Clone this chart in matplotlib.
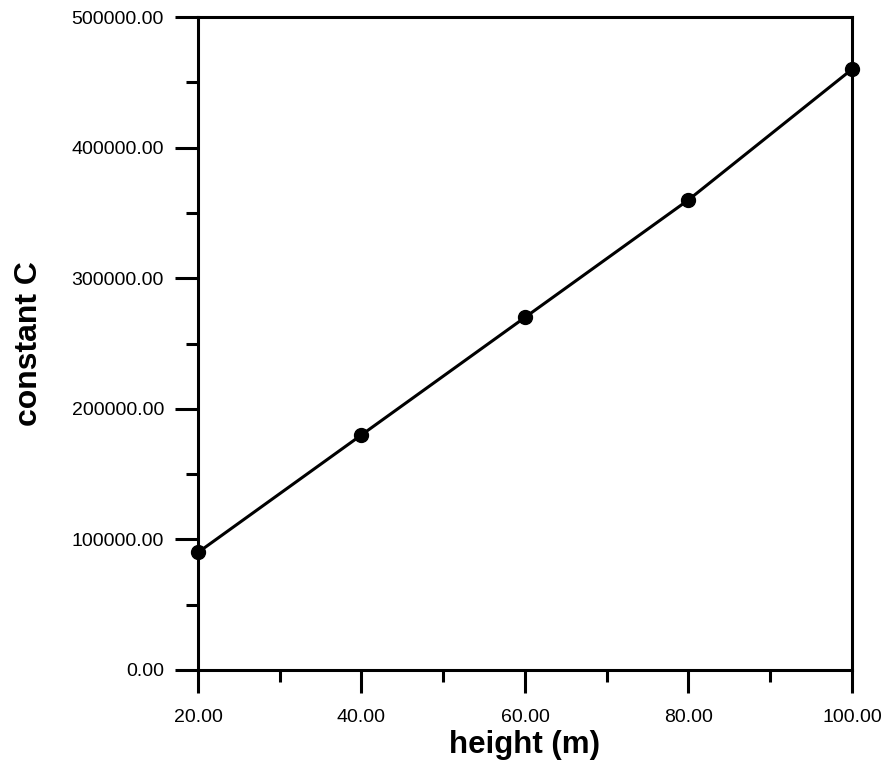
import matplotlib
matplotlib.use("Agg")
import matplotlib.pyplot as plt
from matplotlib.ticker import MultipleLocator, FormatStrFormatter

plt.rcParams['font.family'] = ['Liberation Sans', 'DejaVu Sans']

# data
height = [20, 40, 60, 80, 100]
const_c = [90000, 180000, 270000, 360000, 460000]

fig = plt.figure(figsize=(8.85, 7.63), dpi=100)
ax = fig.add_axes([0.2237, 0.1219, 0.9627 - 0.2237, 0.9777 - 0.1219])

ax.plot(height, const_c, color='black', lw=2.2, marker='o', ms=10, clip_on=False, zorder=3)

ax.set_xlim(20, 100)
ax.set_ylim(0, 500000)
ax.xaxis.set_major_locator(MultipleLocator(20))
ax.xaxis.set_minor_locator(MultipleLocator(10))
ax.yaxis.set_major_locator(MultipleLocator(100000))
ax.yaxis.set_minor_locator(MultipleLocator(50000))
ax.xaxis.set_major_formatter(FormatStrFormatter('%.2f'))
ax.yaxis.set_major_formatter(FormatStrFormatter('%.2f'))

for s in ax.spines.values():
    s.set_linewidth(2.2)

ax.tick_params(which='major', direction='out', length=16.5, width=2.2, labelsize=14)
ax.tick_params(which='minor', direction='out', length=8.5, width=2.2)
ax.tick_params(axis='x', which='major', pad=11.5)
ax.tick_params(axis='y', which='major', pad=8)
ax.tick_params(top=False, right=False, which='both')

ax.set_xlabel("height (m)", fontsize=22.5, fontweight='bold', labelpad=3)
ax.set_ylabel("constant C", fontsize=23, fontweight='bold', labelpad=20)

fig.savefig("out.png", dpi=100)
